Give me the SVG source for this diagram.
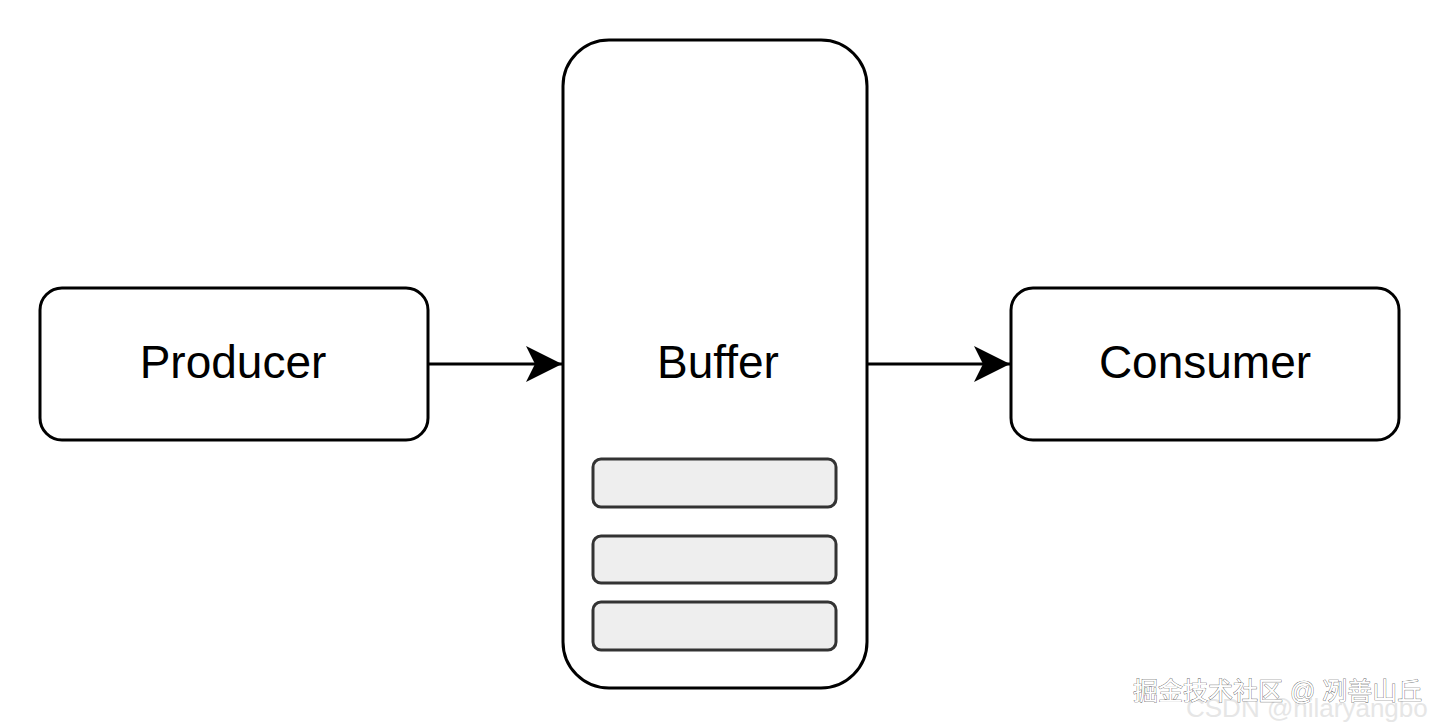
<svg xmlns="http://www.w3.org/2000/svg" width="1440" height="728" viewBox="0 0 1440 728">
<style>
.box{fill:#ffffff;stroke:#000000;stroke-width:3}
.slot{fill:#eeeeee;stroke:#333333;stroke-width:3}
.lbl{font-family:"Liberation Sans",Arial,sans-serif;font-size:46px;fill:#000000;text-anchor:middle}
.edge{stroke:#000000;stroke-width:3;fill:none}
.wm1{font-family:"Liberation Sans","Noto Sans CJK SC",sans-serif;font-size:26px;fill:#e6e6e6}
.wm2{font-family:"Liberation Sans","Noto Sans CJK SC",sans-serif;font-size:25px;fill:#ffffff;stroke:#555555;stroke-width:0.7;paint-order:stroke}
</style>
<defs>
<marker id="arrow" viewBox="0 0 36 36" refX="36" refY="18" markerWidth="36" markerHeight="36" markerUnits="userSpaceOnUse" orient="auto">
<path d="M0,0 L36,18 L0,36 L9,18 Z" fill="#000000"/>
</marker>
</defs>
<rect width="1440" height="728" fill="#ffffff"/>
<g id="connectors">
<line class="edge" x1="428" y1="364" x2="562" y2="364" marker-end="url(#arrow)"/>
<line class="edge" x1="867" y1="364" x2="1010" y2="364" marker-end="url(#arrow)"/>
</g>
<g id="producer">
<rect class="box" x="40" y="288" width="388" height="152" rx="22"/>
<text class="lbl" x="233" y="378">Producer</text>
</g>
<g id="buffer">
<rect class="box" x="563" y="40" width="304" height="648" rx="46"/>
<text class="lbl" x="718" y="378">Buffer</text>
<rect class="slot" x="593" y="459" width="243" height="48" rx="8"/>
<rect class="slot" x="593" y="536" width="243" height="47" rx="8"/>
<rect class="slot" x="593" y="602" width="243" height="48" rx="8"/>
</g>
<g id="consumer">
<rect class="box" x="1011" y="288" width="388" height="152" rx="22"/>
<text class="lbl" x="1205" y="378">Consumer</text>
</g>
<g id="watermark">
<text class="wm1" x="1186" y="717">CSDN @hilaryangbo</text>
<text class="wm2" x="1133" y="700">掘金技术社区 @ 冽善山丘</text>
</g>
</svg>
